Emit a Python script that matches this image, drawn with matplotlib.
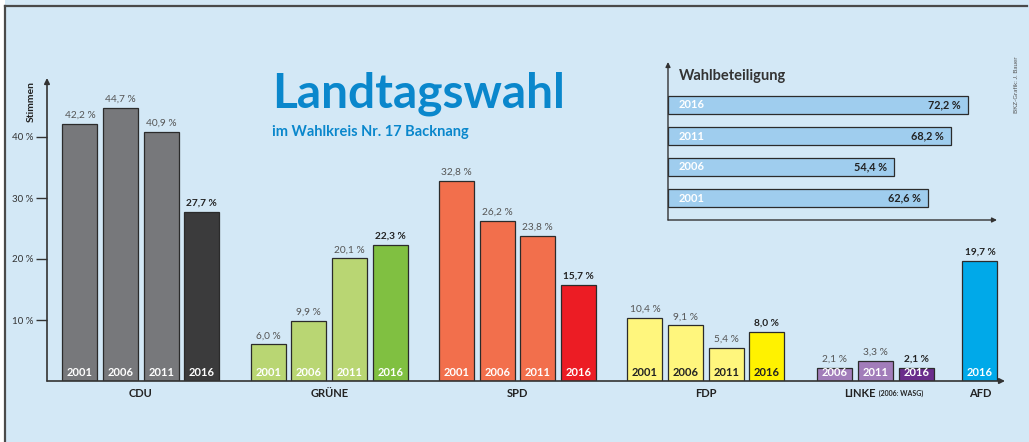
import matplotlib
matplotlib.use("Agg")
import matplotlib.pyplot as plt
from matplotlib.lines import Line2D
from matplotlib.patches import Rectangle

plt.rcParams["font.family"] = ["Lato", "DejaVu Sans"]

# --- data -------------------------------------------------------------
parties = ["CDU", "GRÜNE", "SPD", "FDP", "LINKE", "AFD"]
party_years = [
    ["2001", "2006", "2011", "2016"],
    ["2001", "2006", "2011", "2016"],
    ["2001", "2006", "2011", "2016"],
    ["2001", "2006", "2011", "2016"],
    ["2006", "2011", "2016"],
    ["2016"],
]
cdu = [42.2, 44.7, 40.9, 27.7]
gruene = [6.0, 9.9, 20.1, 22.3]
spd = [32.8, 26.2, 23.8, 15.7]
fdp = [10.4, 9.1, 5.4, 8.0]
linke = [2.1, 3.3, 2.1]
afd = [19.7]
party_values = [cdu, gruene, spd, fdp, linke, afd]

turnout_years = ["2001", "2006", "2011", "2016"]
turnout = [62.6, 54.4, 68.2, 72.2]

yticks = [10, 20, 30, 40]

# --- style ------------------------------------------------------------
W, H = 1029, 442
BG = "#d3e8f6"
old_colors = ["#77787b", "#b9d673", "#f26f4c", "#fff67d", "#a27dba", "#00a9e9"]
new_colors = ["#3b3b3c", "#80c041", "#ec1c24", "#fff200", "#6b2c8c", "#00a9e9"]
year_text = ["white", "white", "white", "#222222", "white", "white"]
first_bar = [80, 268.3, 456.6, 644.9, 835, 980]   # pixel centre of first bar
slot = 40.6
bar_w = 35


def px(x, y):
    return x / W, 1 - y / H


fig = plt.figure(figsize=(W / 100, H / 100), dpi=100, facecolor="white")
fig.patches.append(Rectangle(px(5, H), 1, 1, transform=fig.transFigure,
                             facecolor=BG, edgecolor="none", zorder=-10))
fig.add_artist(Line2D([5 / W, 1027 / W], [1 - 6 / H] * 2, color="#4a4a4a", lw=1.6))
fig.add_artist(Line2D([5 / W] * 2, [0, 1 - 6 / H], color="#4a4a4a", lw=1.6))

# --- main chart -------------------------------------------------------
x0, x1, y0, y1 = 47, 1005, 381, 78
ax = fig.add_axes([x0 / W, 1 - y0 / H, (x1 - x0) / W, (y0 - y1) / H])
ax.set_facecolor("none")
ax.set_xlim(x0, x1)
ax.set_ylim(0, (y0 - y1) / 6.1)
for s in ax.spines.values():
    s.set_visible(False)
ax.annotate("", xy=(0, 1), xytext=(0, 0), xycoords="axes fraction",
            arrowprops=dict(arrowstyle="-|>", color="#333333", lw=1.2,
                            mutation_scale=8, shrinkA=0, shrinkB=0))
ax.annotate("", xy=(1, 0), xytext=(0, 0), xycoords="axes fraction",
            arrowprops=dict(arrowstyle="-|>", color="#333333", lw=1.2,
                            mutation_scale=8, shrinkA=0, shrinkB=0))
ax.set_xticks([])
ax.set_yticks(yticks)
ax.set_yticklabels([f"{t} %" for t in yticks], fontsize=7, color="#333333")
ax.tick_params(axis="y", length=8, width=1, color="#333333", pad=2)
ax.text(-0.012, 0.99, "Stimmen", transform=ax.transAxes, rotation=90,
        ha="right", va="top", fontsize=7.5, fontweight="bold", color="#222222")

for i, (name, years, vals) in enumerate(zip(parties, party_years, party_values)):
    xs = [first_bar[i] + k * slot for k in range(len(vals))]
    cols = [new_colors[i] if y == "2016" else old_colors[i] for y in years]
    ax.bar(xs, vals, width=bar_w, color=cols, edgecolor="#2b2b2b", lw=0.9,
           zorder=2)
    for x, v, y in zip(xs, vals, years):
        bold = y == "2016"
        ax.annotate(f"{v:.1f} %".replace(".", ","), (x, v), xytext=(0, 3),
                    textcoords="offset points", ha="center", va="bottom",
                    fontsize=7.3, fontweight="bold" if bold else "normal",
                    color="#222222" if bold else "#555555")
        ax.annotate(y, (x, 0), xytext=(0, 2), textcoords="offset points",
                    ha="center", va="bottom", fontsize=8, fontweight="bold",
                    color=year_text[i], zorder=3)
    cx = sum(xs) / len(xs)
    if name == "LINKE":
        ax.text(cx, -2.0, "LINKE", ha="right", va="center", fontsize=8,
                fontweight="bold", color="#222222")
        ax.text(cx + 1, -2.1, " (2006: WASG)", ha="left", va="center",
                fontsize=5, fontweight="bold", color="#222222")
    else:
        ax.text(cx, -2.0, name, ha="center", va="center", fontsize=8,
                fontweight="bold", color="#222222")

fig.text(*px(272, 107), "Landtagswahl", fontsize=34.5, fontweight="bold",
         color="#0a87cc", ha="left", va="baseline")
fig.text(*px(272, 136), "im Wahlkreis Nr. 17 Backnang", fontsize=10.5,
         fontweight="bold", color="#0a87cc", ha="left", va="baseline")
fig.text(*px(1017, 56), "BKZ-Grafik: J. Bauer", rotation=90, fontsize=4.5,
         color="#555555", ha="center", va="top")

# --- turnout inset ----------------------------------------------------
ix0, ix1, iy0, iy1 = 668, 997, 220, 62
scale = 4.15  # px per percent
iax = fig.add_axes([ix0 / W, 1 - iy0 / H, (ix1 - ix0) / W, (iy0 - iy1) / H])
iax.set_facecolor("none")
iax.set_xlim(0, (ix1 - ix0) / scale)
iax.set_ylim(0, iy0 - iy1)
for s in iax.spines.values():
    s.set_visible(False)
iax.set_xticks([])
iax.set_yticks([])
iax.annotate("", xy=(0, 1), xytext=(0, 0), xycoords="axes fraction",
             arrowprops=dict(arrowstyle="-|>", color="#333333", lw=1.0,
                             mutation_scale=7, shrinkA=0, shrinkB=0))
iax.annotate("", xy=(1, 0), xytext=(0, 0), xycoords="axes fraction",
             arrowprops=dict(arrowstyle="-|>", color="#333333", lw=1.0,
                             mutation_scale=7, shrinkA=0, shrinkB=0))
rows = [22 + k * 31 for k in range(len(turnout))]
iax.barh(rows, turnout, height=17.5, color="#9fcdee", edgecolor="#2b2b2b",
         lw=0.9, zorder=2)
for r, v, y in zip(rows, turnout, turnout_years):
    iax.text(2.5, r, y, ha="left", va="center", fontsize=8,
             fontweight="bold", color="white", zorder=3)
    iax.annotate(f"{v:.1f} %".replace(".", ","), (v, r), xytext=(-5, 0),
                 textcoords="offset points", ha="right", va="center",
                 fontsize=7.8, fontweight="bold", color="#222222", zorder=3)
fig.text(*px(679, 80), "Wahlbeteiligung", fontsize=10.5, fontweight="bold",
         color="#333333", ha="left", va="baseline")

fig.savefig("out.png", dpi=100, facecolor=fig.get_facecolor())
